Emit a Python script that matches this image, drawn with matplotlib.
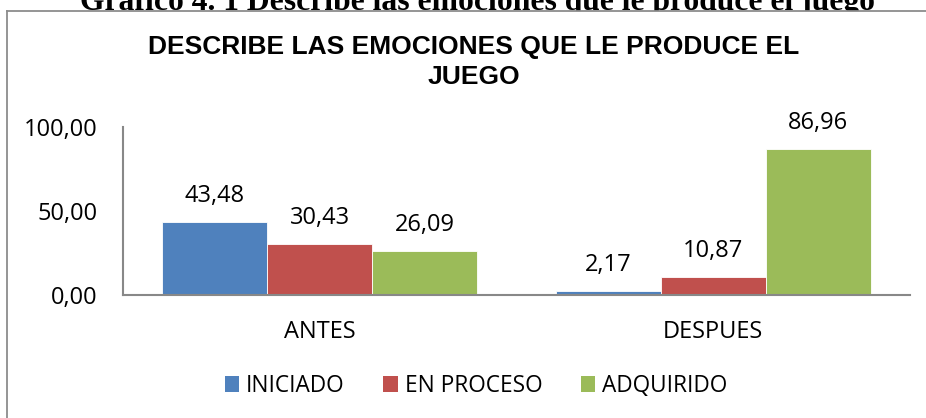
import matplotlib
matplotlib.use("Agg")
import matplotlib.pyplot as plt
import numpy as np
from matplotlib.lines import Line2D
from matplotlib.patches import Rectangle, Patch

# data
categories = ["ANTES", "DESPUES"]
series_names = ["INICIADO", "EN PROCESO", "ADQUIRIDO"]
iniciado = [43.48, 2.17]
en_proceso = [30.43, 10.87]
adquirido = [26.09, 86.96]
yticks = [0, 50, 100]

BLUE = "#4f81bd"
RED = "#c0504d"
GREEN = "#9bbb59"
AXIS = "#888888"
FRAME = "#8c8c8c"
FONT = "Open Sans"

W, H = 926, 418
fig = plt.figure(figsize=(W / 100, H / 100), dpi=100)

# outer caption, cut off by the top edge like in the reference
fig.text(477 / W, 1 - 10 / H, "Gráfico 4. 1 Describe las emociones que le produce el juego",
         ha="center", va="baseline", fontsize=22.8, fontweight="bold",
         family="Liberation Serif", zorder=1)

# chart frame: white block hides the caption descenders, only top + left edges show
fig.patches.append(Rectangle((7 / W, -0.1), 1.2, 1.1 - 11 / H, transform=fig.transFigure,
                             facecolor="white", edgecolor="none", zorder=2))
fig.lines.append(Line2D([7 / W, 1.0], [1 - 11 / H, 1 - 11 / H], transform=fig.transFigure,
                        color=FRAME, linewidth=1.3, zorder=3))
fig.lines.append(Line2D([7 / W, 7 / W], [0.0, 1 - 11 / H], transform=fig.transFigure,
                        color=FRAME, linewidth=1.3, zorder=3))

fig.text(474 / W, 1 - 54 / H, "DESCRIBE LAS EMOCIONES QUE LE PRODUCE EL",
         ha="center", va="baseline", fontsize=19, fontweight="bold",
         family="Liberation Sans", zorder=3)
fig.text(474 / W, 1 - 84 / H, "JUEGO",
         ha="center", va="baseline", fontsize=19, fontweight="bold",
         family="Liberation Sans", zorder=3)

ax = fig.add_axes([123 / W, 1 - 295 / H, (910 - 123) / W, (295 - 127) / H], zorder=4)
ax.patch.set_alpha(0)

x = np.arange(len(categories))
width = 0.267
colors = [BLUE, RED, GREEN]
for i, (vals, col) in enumerate(zip([iniciado, en_proceso, adquirido], colors)):
    bars = ax.bar(x + (i - 1) * width, vals, width, color=col, edgecolor="white",
                  linewidth=0.6)
    for b, v in zip(bars, vals):
        ax.annotate(f"{v:.2f}".replace(".", ","), (b.get_x() + b.get_width() / 2, v),
                    xytext=(0, 10), textcoords="offset points", ha="center",
                    va="bottom", fontsize=17, family=FONT)

ax.set_xlim(-0.5, 1.5)
ax.set_ylim(0, 100)
ax.set_xticks(x)
ax.set_xticklabels(categories, fontsize=17, family=FONT)
ax.set_yticks(yticks)
ax.set_yticklabels([f"{t:.2f}".replace(".", ",") for t in yticks], fontsize=17, family=FONT)
ax.tick_params(axis="y", length=0, pad=18)
ax.tick_params(axis="x", length=0, pad=18)
for s in ("top", "right"):
    ax.spines[s].set_visible(False)
for s in ("left", "bottom"):
    ax.spines[s].set_color(AXIS)
    ax.spines[s].set_linewidth(1.5)

handles = [Patch(facecolor=c, label=n) for c, n in zip(colors, series_names)]
leg = fig.legend(handles=handles, loc="center", bbox_to_anchor=(476 / W, 1 - 386 / H),
                 ncol=3, frameon=False, prop={"family": FONT, "size": 16.3},
                 handlelength=0.65, handleheight=0.65, handletextpad=0.3,
                 columnspacing=1.7)
leg.set_zorder(5)

fig.savefig("out.png", dpi=100)
